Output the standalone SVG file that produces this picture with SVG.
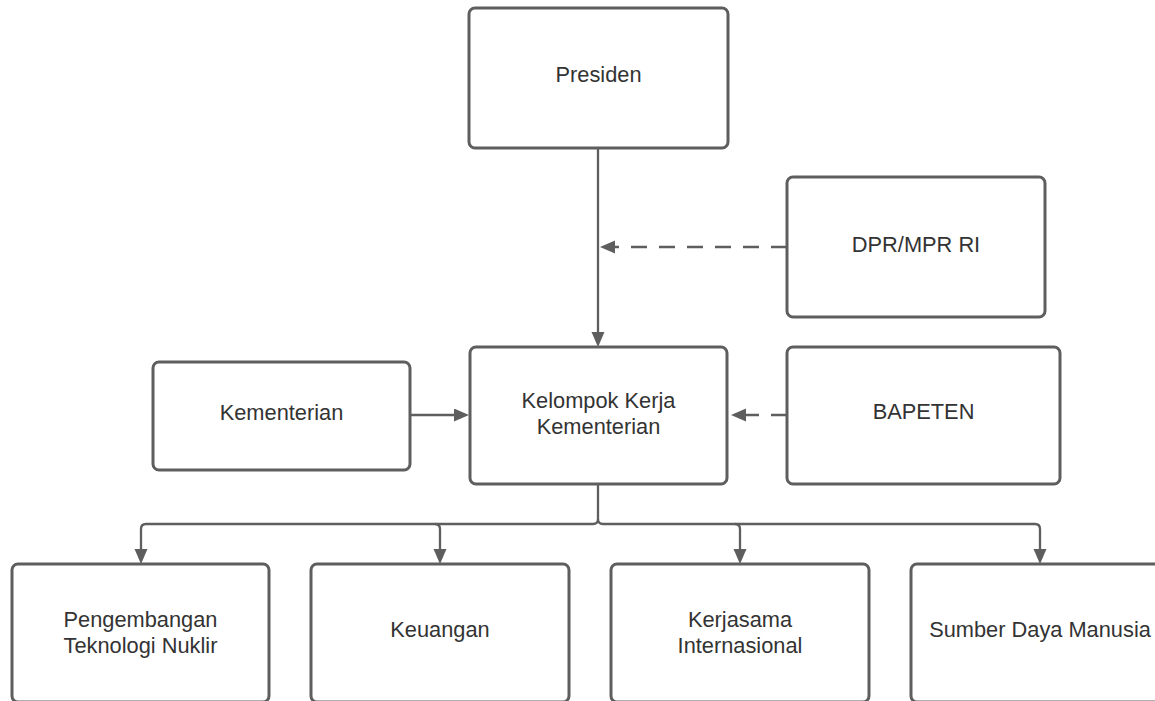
<svg xmlns="http://www.w3.org/2000/svg" width="1155" height="701" viewBox="0 0 1155 701">
<style>
.box{fill:#ffffff;stroke:#5e5e5e;stroke-width:3}
.lbl{font-family:"Liberation Sans",Arial,sans-serif;font-size:21.8px;fill:#333333;text-anchor:middle}
.con{fill:none;stroke:#5e5e5e;stroke-width:2.3}
.dash{stroke-dasharray:16 12}
</style>
<defs>
<marker id="ah" markerUnits="userSpaceOnUse" markerWidth="16" markerHeight="14" refX="11" refY="6.5" orient="auto">
<path d="M0,0 L15,6.5 L0,13 z" fill="#5e5e5e"/>
</marker>
</defs>
<rect width="1155" height="701" fill="#ffffff"/>
<g id="connectors">
<path class="con" d="M598,148 V343" marker-end="url(#ah)"/>
<path class="con dash" d="M787,247 H604" marker-end="url(#ah)"/>
<path class="con" d="M410,415 H465" marker-end="url(#ah)"/>
<path class="con dash" d="M787,415 H735" marker-end="url(#ah)"/>
<path class="con" d="M598,484 V519 Q598,524 593,524 H146 Q141,524 141,529 V560" marker-end="url(#ah)"/>
<path class="con" d="M435,524 Q440,524 440,529 V560" marker-end="url(#ah)"/>
<path class="con" d="M598,519 Q598,524 603,524 H1035 Q1040,524 1040,529 V560" marker-end="url(#ah)"/>
<path class="con" d="M735,524 Q740,524 740,529 V560" marker-end="url(#ah)"/>
</g>
<g id="presiden">
<rect class="box" x="469" y="8" width="259" height="140" rx="6"/>
<text class="lbl" x="598.5" y="82">Presiden</text>
</g>
<g id="dpr">
<rect class="box" x="787" y="177" width="258" height="140" rx="6"/>
<text class="lbl" x="916" y="252">DPR/MPR RI</text>
</g>
<g id="kementerian">
<rect class="box" x="153" y="362" width="257" height="108" rx="6"/>
<text class="lbl" x="281.5" y="420">Kementerian</text>
</g>
<g id="kelompok">
<rect class="box" x="470" y="347" width="257" height="137" rx="6"/>
<text class="lbl" x="598.5" y="408">Kelompok Kerja</text>
<text class="lbl" x="598.5" y="434">Kementerian</text>
</g>
<g id="bapeten">
<rect class="box" x="787" y="347" width="273" height="137" rx="6"/>
<text class="lbl" x="923.5" y="419">BAPETEN</text>
</g>
<g id="pengembangan">
<rect class="box" x="12" y="564" width="257" height="138" rx="6"/>
<text class="lbl" x="140.5" y="627">Pengembangan</text>
<text class="lbl" x="140.5" y="653">Teknologi Nuklir</text>
</g>
<g id="keuangan">
<rect class="box" x="311" y="564" width="258" height="138" rx="6"/>
<text class="lbl" x="440" y="637">Keuangan</text>
</g>
<g id="kerjasama">
<rect class="box" x="611" y="564" width="258" height="138" rx="6"/>
<text class="lbl" x="740" y="627">Kerjasama</text>
<text class="lbl" x="740" y="653">Internasional</text>
</g>
<g id="sdm">
<rect class="box" x="911" y="564" width="258" height="138" rx="6"/>
<text class="lbl" x="1040" y="637">Sumber Daya Manusia</text>
</g>
</svg>
